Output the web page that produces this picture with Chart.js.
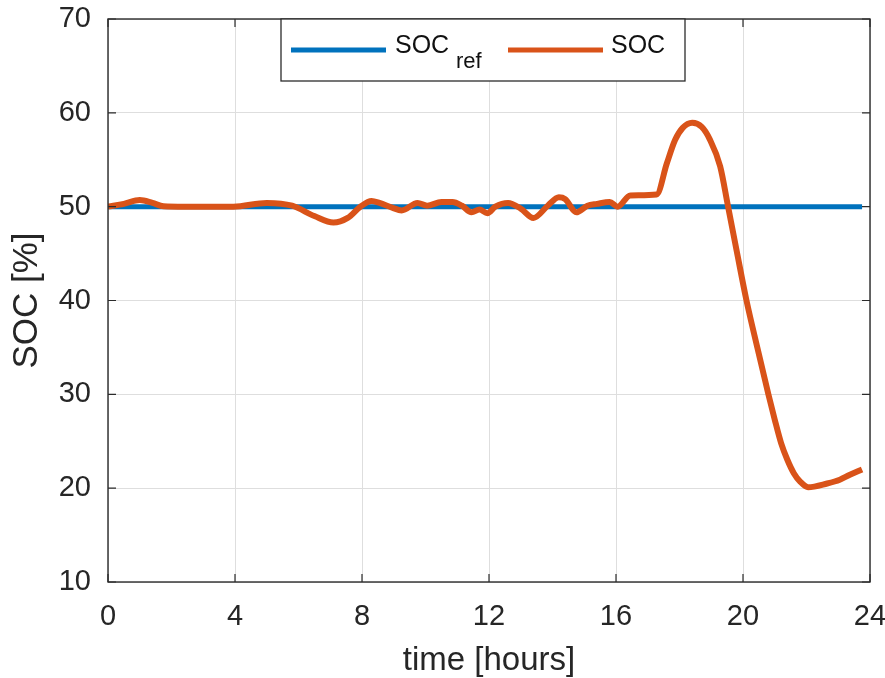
<!DOCTYPE html>
<html>
<head>
<meta charset="utf-8">
<script src="https://cdn.jsdelivr.net/npm/chart.js@4/dist/chart.umd.min.js"></script>
<style>
  html, body { margin: 0; padding: 0; background: #fff; }
  #wrap { width: 885px; height: 678px; }
</style>
</head>
<body>
<div id="wrap"><canvas id="c" width="885" height="678"></canvas></div>
<script>
// Time of day [hours] and measured state of charge [%]
const hours = [0.00, 0.5, 1.0, 1.4, 1.75, 2.4, 3.95, 5.0, 5.8, 6.5, 7.1, 7.55, 7.95, 8.3, 8.55, 8.95,
  9.25, 9.75, 10.05, 10.5, 10.85, 11.15, 11.45, 11.7, 11.95, 12.2, 12.6, 13.0, 13.4, 13.85, 14.2,
  14.4, 14.75, 15.1, 15.4, 15.8, 16.05, 16.45, 17.28, 17.6, 17.86, 18.1, 18.4, 18.7, 18.95, 19.28,
  19.53, 19.8, 20.11, 20.45, 20.8, 21.0, 21.2, 21.4, 21.6, 21.8, 22.05, 22.65, 23.05, 23.35, 23.75];
const soc = [50.0, 50.3, 50.7, 50.4, 50.05, 50.0, 50.0, 50.4, 50.1, 49.0, 48.3, 48.8, 50.0, 50.6, 50.4, 49.9,
  49.6, 50.4, 50.1, 50.5, 50.5, 50.1, 49.4, 49.7, 49.3, 50.0, 50.4, 49.8, 48.8, 50.1, 51.0,
  50.8, 49.4, 50.1, 50.3, 50.5, 50.0, 51.2, 51.3, 54.6, 57.1, 58.4, 58.95, 58.5, 57.2, 54.3,
  50.0, 45.3, 40.0, 35.0, 30.0, 27.3, 24.8, 23.0, 21.6, 20.7, 20.1, 20.5, 20.9, 21.4, 22.0];

// Reference state of charge
const refHours = [0, 23.75];
const socRef = [50, 50];

// Axis ticks
const xTickValues = [0, 4, 8, 12, 16, 20, 24];
const yTickValues = [10, 20, 30, 40, 50, 60, 70];

const BLUE = '#0072BD';
const ORANGE = '#D95319';
const FONT = "'Liberation Sans', Arial, Helvetica, sans-serif";
const AXIS_COLOR = '#2b2b2b';

const toPoints = (xs, ys) => xs.map((x, i) => ({ x: x, y: ys[i] }));

// Fixed axis thickness, no extra room for overhanging end labels
const fixScale = size => s => {
  if (s.isHorizontal()) s.height = size; else s.width = size;
  s.paddingTop = 0; s.paddingBottom = 0; s.paddingLeft = 0; s.paddingRight = 0;
};

// Box around the axes with short inward tick marks on all four sides
const axesFrame = {
  id: 'axesFrame',
  afterDatasetsDraw(chart) {
    const { ctx, chartArea: a, scales } = chart;
    ctx.save();
    ctx.strokeStyle = AXIS_COLOR;
    ctx.lineWidth = 1.4;
    ctx.strokeRect(a.left, a.top, a.right - a.left, a.bottom - a.top);
    const len = 8;
    ctx.lineWidth = 1.2;
    ctx.beginPath();
    scales.x.ticks.forEach(t => {
      const px = scales.x.getPixelForValue(t.value);
      ctx.moveTo(px, a.bottom); ctx.lineTo(px, a.bottom - len);
      ctx.moveTo(px, a.top); ctx.lineTo(px, a.top + len);
    });
    scales.y.ticks.forEach(t => {
      const py = scales.y.getPixelForValue(t.value);
      ctx.moveTo(a.left, py); ctx.lineTo(a.left + len, py);
      ctx.moveTo(a.right, py); ctx.lineTo(a.right - len, py);
    });
    ctx.stroke();
    ctx.restore();
  }
};

// Legend box with subscripted label text
const socLegend = {
  id: 'socLegend',
  afterDraw(chart) {
    const { ctx, chartArea: a } = chart;
    const bx = a.left + 173, by = a.top, bw = 404, bh = 62;
    ctx.save();
    ctx.fillStyle = '#fff';
    ctx.fillRect(bx, by, bw, bh);
    ctx.strokeStyle = AXIS_COLOR;
    ctx.lineWidth = 1.3;
    ctx.strokeRect(bx, by, bw, bh);

    const items = chart.data.datasets.slice().sort((p, q) => q.order - p.order);
    const layout = [
      { lineX: 10, textX: 114, subX: 175 },
      { lineX: 227, textX: 330, subX: 0 }
    ];
    items.forEach((ds, i) => {
      const L = layout[i];
      ctx.strokeStyle = ds.borderColor;
      ctx.lineWidth = 5;
      ctx.beginPath();
      ctx.moveTo(bx + L.lineX, by + 31);
      ctx.lineTo(bx + L.lineX + 95, by + 31);
      ctx.stroke();
      ctx.fillStyle = '#111';
      ctx.textBaseline = 'alphabetic';
      ctx.textAlign = 'left';
      ctx.font = '25px ' + FONT;
      ctx.fillText(ds.labelMain, bx + L.textX, by + 34);
      if (ds.labelSub) {
        ctx.font = '22px ' + FONT;
        ctx.fillText(ds.labelSub, bx + L.subX, by + 49);
      }
    });
    ctx.restore();
  }
};

new Chart(document.getElementById('c'), {
  type: 'line',
  data: {
    datasets: [
      {
        label: 'SOC',
        labelMain: 'SOC',
        labelSub: '',
        data: toPoints(hours, soc),
        borderColor: ORANGE,
        borderWidth: 6,
        pointRadius: 0,
        cubicInterpolationMode: 'monotone',
        fill: false,
        order: 1
      },
      {
        label: 'SOCref',
        labelMain: 'SOC',
        labelSub: 'ref',
        data: toPoints(refHours, socRef),
        borderColor: BLUE,
        borderWidth: 5,
        pointRadius: 0,
        fill: false,
        order: 2
      }
    ]
  },
  options: {
    responsive: false,
    animation: false,
    devicePixelRatio: 1,
    layout: { padding: { left: 0, top: 19, right: 15, bottom: 0 } },
    plugins: { legend: { display: false }, tooltip: { enabled: false }, title: { display: false } },
    scales: {
      x: {
        type: 'linear',
        min: 0,
        max: 24,
        afterBuildTicks: s => { s.ticks = xTickValues.map(v => ({ value: v })); },
        afterFit: fixScale(96),
        ticks: {
          font: { family: FONT, size: 29 },
          color: '#262626',
          padding: 18,
          maxRotation: 0,
          autoSkip: false
        },
        grid: { color: '#dedede', lineWidth: 1, drawTicks: false },
        border: { display: false },
        title: {
          display: true,
          text: 'time [hours]',
          font: { family: FONT, size: 33, lineHeight: 1 },
          color: '#262626',
          padding: { top: 0, bottom: 1 }
        }
      },
      y: {
        min: 10,
        max: 70,
        afterBuildTicks: s => { s.ticks = yTickValues.map(v => ({ value: v })); },
        afterFit: fixScale(108),
        ticks: {
          font: { family: FONT, size: 29 },
          color: '#262626',
          padding: 17
        },
        grid: { color: '#dedede', lineWidth: 1, drawTicks: false },
        border: { display: false },
        title: {
          display: true,
          text: 'SOC [%]',
          font: { family: FONT, size: 35, lineHeight: 1 },
          color: '#262626',
          padding: { top: 10, bottom: 0 }
        }
      }
    }
  },
  plugins: [axesFrame, socLegend]
});
</script>
</body>
</html>
